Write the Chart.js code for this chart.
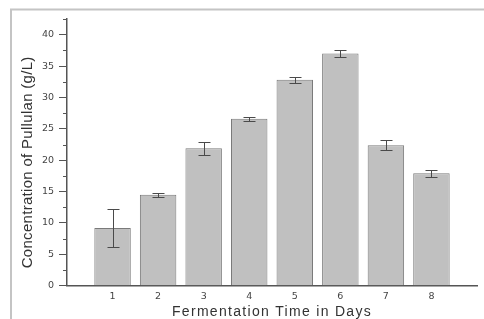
<!DOCTYPE html>
<html>
<head>
<meta charset="utf-8">
<script src="https://cdn.jsdelivr.net/npm/chart.js@4.4.1/dist/chart.umd.min.js"></script>
<style>
  html, body { margin: 0; padding: 0; background: #fff; }
  #wrap { width: 484px; height: 319px; position: relative; }
</style>
</head>
<body>
<div id="wrap"><canvas id="c" width="484" height="319"></canvas></div>
<script>
// ---- data ----
const days = ['1', '2', '3', '4', '5', '6', '7', '8'];
const pullulan = [9.2, 14.5, 21.9, 26.6, 32.8, 37.0, 22.4, 17.9];
const errors = [3.1, 0.3, 1.05, 0.35, 0.5, 0.55, 0.85, 0.5];
const yMin = 0;
const yMax = 42.5;
const yStep = 2.5;
const yLabelStep = 5;
const xTitle = 'Fermentation Time in Days';
const yTitle = 'Concentration of Pullulan (g/L)';

// padded category list so bars sit one unit in from each axis end
const labels = [''].concat(days, ['']);
const values = [null].concat(pullulan, [null]);
const errs = [null].concat(errors, [null]);

// scales with small title tweaks (letter spacing / vertical offset)
class SpacedCategoryScale extends Chart.CategoryScale {
  drawTitle() {
    const ctx = this.ctx;
    ctx.save();
    ctx.letterSpacing = '1.3px';
    super.drawTitle();
    ctx.restore();
  }
}
SpacedCategoryScale.id = 'spacedCategory';
SpacedCategoryScale.defaults = Chart.CategoryScale.defaults;

class ShiftedLinearScale extends Chart.LinearScale {
  drawTitle() {
    const ctx = this.ctx;
    ctx.save();
    ctx.translate(0, 10);
    ctx.letterSpacing = '0.3px';
    super.drawTitle();
    ctx.restore();
  }
}
ShiftedLinearScale.id = 'shiftedLinear';
ShiftedLinearScale.defaults = Chart.LinearScale.defaults;
Chart.register(SpacedCategoryScale, ShiftedLinearScale);

const framePlugin = {
  id: 'frame',
  beforeDraw(chart) {
    const ctx = chart.ctx;
    ctx.save();
    ctx.strokeStyle = '#c4c4c4';
    ctx.lineWidth = 2;
    ctx.beginPath();
    ctx.moveTo(484, 9.5);
    ctx.lineTo(11, 9.5);
    ctx.lineTo(11, 319);
    ctx.stroke();
    ctx.restore();
  }
};

const minorTickPlugin = {
  id: 'minorTicks',
  afterDraw(chart) {
    const y = chart.scales.y;
    const ctx = chart.ctx;
    const x0 = chart.chartArea.left;
    ctx.save();
    ctx.strokeStyle = '#555';
    ctx.lineWidth = 1;
    y.ticks.forEach(t => {
      if (Math.abs(t.value / yLabelStep - Math.round(t.value / yLabelStep)) > 1e-6) {
        const py = Math.round(y.getPixelForValue(t.value)) + 0.5;
        ctx.beginPath();
        ctx.moveTo(x0 - 4, py);
        ctx.lineTo(x0, py);
        ctx.stroke();
      }
    });
    ctx.restore();
  }
};

const errorBarPlugin = {
  id: 'errorBars',
  afterDatasetsDraw(chart) {
    const meta = chart.getDatasetMeta(0);
    const y = chart.scales.y;
    const ctx = chart.ctx;
    ctx.save();
    ctx.strokeStyle = '#4a4a4a';
    ctx.lineWidth = 1;
    meta.data.forEach((bar, i) => {
      const v = values[i];
      const e = errs[i];
      if (v === null || e === null) return;
      const x = Math.round(bar.x) + 0.5;
      const yt = Math.round(y.getPixelForValue(v + e)) + 0.5;
      const yb = Math.round(y.getPixelForValue(v - e)) + 0.5;
      const cap = 6;
      ctx.beginPath();
      ctx.moveTo(x, yt); ctx.lineTo(x, yb);
      ctx.moveTo(x - cap, yt); ctx.lineTo(x + cap, yt);
      ctx.moveTo(x - cap, yb); ctx.lineTo(x + cap, yb);
      ctx.stroke();
    });
    ctx.restore();
  }
};

new Chart(document.getElementById('c'), {
  type: 'bar',
  data: {
    labels: labels,
    datasets: [{
      data: values,
      backgroundColor: '#c0c0c0',
      borderColor: '#7a7a7a',
      borderWidth: 1,
      barPercentage: 0.8,
      categoryPercentage: 1.0
    }]
  },
  options: {
    responsive: false,
    animation: false,
    devicePixelRatio: 1,
    layout: { padding: { top: 19, right: 7, left: 0, bottom: 0 } },
    plugins: {
      legend: { display: false },
      tooltip: { enabled: false }
    },
    scales: {
      x: {
        type: 'spacedCategory',
        offset: false,
        grid: { display: false, drawTicks: false, tickLength: 0, offset: false },
        border: { display: true, color: '#555', width: 1.5 },
        ticks: {
          color: '#444',
          font: { family: 'DejaVu Sans', size: 9.5 },
          padding: 5,
          maxRotation: 0,
          autoSkip: false
        },
        title: {
          display: true,
          text: xTitle,
          color: '#333',
          font: { family: 'Liberation Sans', size: 14, lineHeight: 1 },
          padding: { top: 0, bottom: 0 }
        },
        afterFit(scale) { scale.height = 33.3; }
      },
      y: {
        type: 'shiftedLinear',
        min: yMin,
        max: yMax,
        grid: {
          drawOnChartArea: false,
          drawTicks: true,
          tickLength: 8,
          tickColor: ctx => (ctx.tick && Math.abs(ctx.tick.value % yLabelStep) < 1e-6) ? '#555' : 'rgba(0,0,0,0)'
        },
        border: { display: true, color: '#555', width: 1.5 },
        ticks: {
          stepSize: yStep,
          autoSkip: false,
          color: '#444',
          font: { family: 'DejaVu Sans', size: 9.5 },
          padding: 5,
          callback: v => (Math.abs(v % yLabelStep) < 1e-6) ? String(v) : ''
        },
        title: {
          display: true,
          text: yTitle,
          color: '#333',
          font: { family: 'Liberation Sans', size: 15, lineHeight: 1 },
          padding: { top: 20.5, bottom: 0 }
        },
        afterFit(scale) { scale.width = 67; }
      }
    }
  },
  plugins: [framePlugin, minorTickPlugin, errorBarPlugin]
});
</script>
</body>
</html>
